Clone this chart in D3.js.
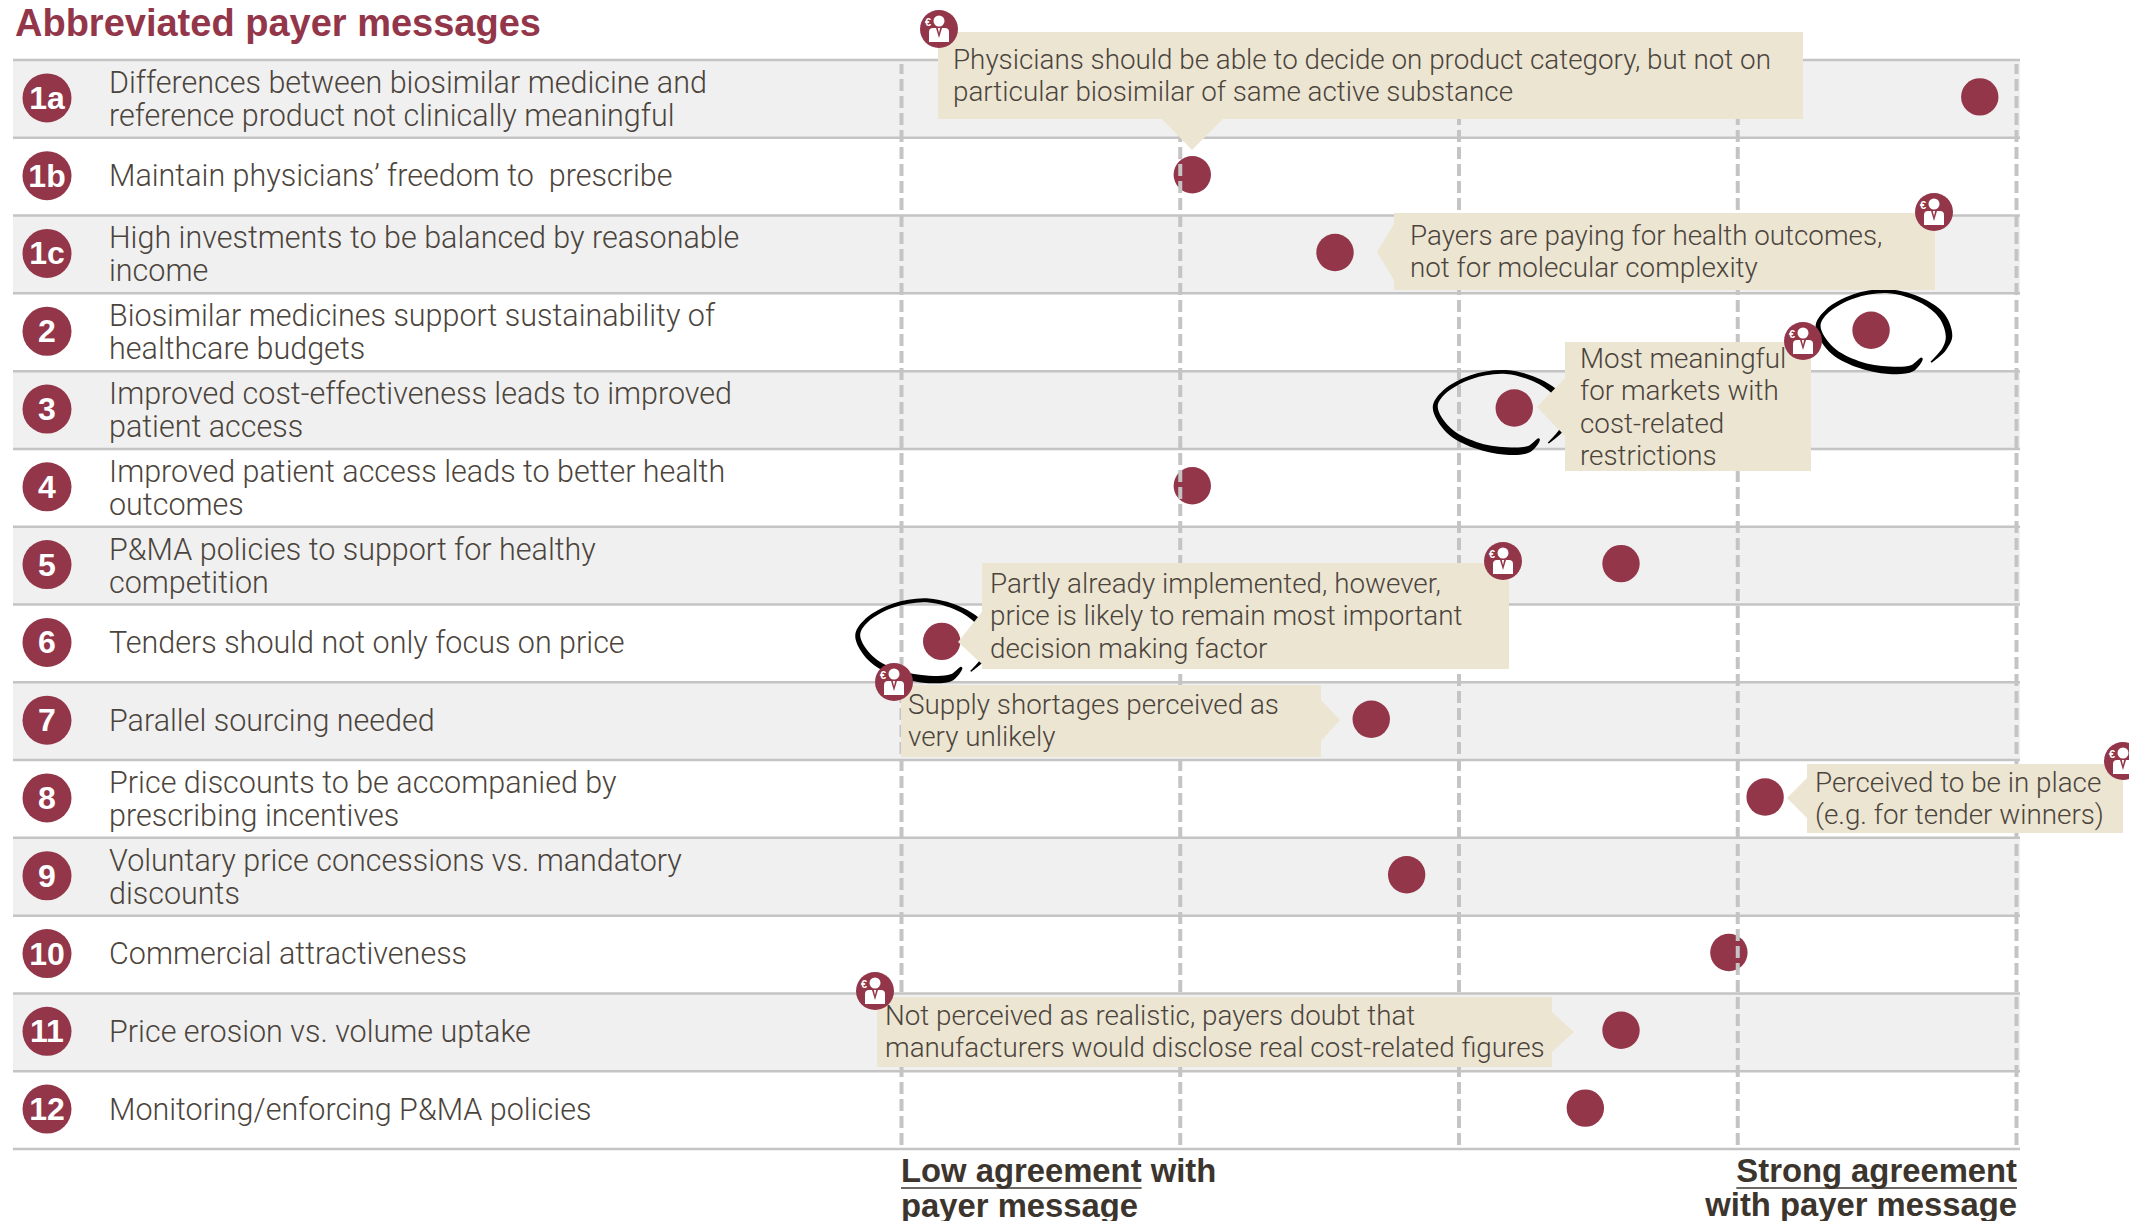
<!DOCTYPE html>
<html>
<head>
<meta charset="utf-8">
<script src="https://cdn.jsdelivr.net/npm/d3@7"></script>
<style>
  body{margin:0;background:#fff;}
  text{white-space:pre;}
</style>
</head>
<body>
<div id="chart"></div>
<script>
// data
var rowIds=["1a","1b","1c","2","3","4","5","6","7","8","9","10","11","12"];
var rowLabels=[
  ["Differences between biosimilar medicine and","reference product not clinically meaningful"],
  ["Maintain physicians’ freedom to  prescribe"],
  ["High investments to be balanced by reasonable","income"],
  ["Biosimilar medicines support sustainability of","healthcare budgets"],
  ["Improved cost-effectiveness leads to improved","patient access"],
  ["Improved patient access leads to better health","outcomes"],
  ["P&MA policies to support for healthy","competition"],
  ["Tenders should not only focus on price"],
  ["Parallel sourcing needed"],
  ["Price discounts to be accompanied by","prescribing incentives"],
  ["Voluntary price concessions vs. mandatory","discounts"],
  ["Commercial attractiveness"],
  ["Price erosion vs. volume uptake"],
  ["Monitoring/enforcing P&MA policies"]
];
// 1 = low agreement, 5 = strong agreement
var agreement=[4.87,2.045,2.557,4.48,3.2,2.045,3.583,1.146,2.687,4.1,2.814,3.97,3.583,3.455];
var agreementTicks=[1,2,3,4,5];
var circledRows=["2","3","6"];
var calloutTexts=[
  ["Physicians should be able to decide on product category, but not on","particular biosimilar of same active substance"],
  ["Payers are paying for health outcomes,","not for molecular complexity"],
  ["Most meaningful","for markets with","cost-related","restrictions"],
  ["Partly already implemented, however,","price is likely to remain most important","decision making factor"],
  ["Supply shortages perceived as","very unlikely"],
  ["Perceived to be in place","(e.g. for tender winners)"],
  ["Not perceived as realistic, payers doubt that","manufacturers would disclose real cost-related figures"]
];

// layout
var width=2129,height=1221;
var wine="#93364a",textCol="#4b443c",boxCol="#ebe5d2",lineCol="#c4c4c4",stripe="#f0f0f0";
var fontLight="Roboto, 'Liberation Sans', sans-serif";
var fontBold="'Liberation Sans', Arial, sans-serif";
// x,y,w,h of box, text x, first baseline, pointer polygon offsets, icon position
var calloutLayout=[
  {x:938,y:32,w:865,h:87,tx:953,ty:69,ptr:[[1162,119],[1192,150],[1223,119]],icon:[939,29]},
  {x:1394,y:213,w:541,h:77,tx:1410,ty:245,ptr:[[1394,224],[1377,252],[1394,280]],icon:[1934,212]},
  {x:1565,y:342,w:246,h:129,tx:1580,ty:368,ptr:[[1565,378],[1537,407],[1565,436]],icon:[1803,341]},
  {x:982,y:563,w:527,h:106,tx:990,ty:593,ptr:[[982,612],[958,642],[982,664]],icon:[1503,561]},
  {x:901,y:685,w:420,h:72,tx:908,ty:714,ptr:[[1321,700],[1340,720],[1321,741]],icon:[894,682]},
  {x:1807,y:764,w:316,h:69,tx:1815,ty:792,ptr:[[1807,778],[1787,798],[1807,818]],icon:[2123,761]},
  {x:877,y:997,w:675,h:70,tx:885,ty:1025,ptr:[[1552,1012],[1574,1032],[1552,1052]],icon:[875,991]}
];
// hand drawn ring around a dot: x,y,stroke width relative to the dot
var ringStroke=[[60,32,1.5],[73,19,4],[78,6,6.5],[71,-14,6.5],[52,-29,5],[18,-39,4],[-17,-34,4],[-44,-19,4],[-53,-4,5],[-40,19,6],[-13,34,6.5],[18,40,7.5],[41,38,6.5],[51,28,2]];
var ringShift={"2":[0,0],"3":[-26,3],"6":[-31,-2]};

var svg=d3.select("#chart").append("svg").attr("width",width).attr("height",height);
var x=d3.scaleLinear().domain([1,5]).range([901,2016]);
var y=d3.scaleBand().domain(rowIds).range([60,1149]);
var rowMid=function(id){return y(id)+y.bandwidth()/2;};
var left=13,right=2020;

// stripes
svg.append("g").selectAll("rect").data(rowIds.filter(function(d,i){return i%2==0;})).enter().append("rect")
  .attr("x",left).attr("y",function(d){return y(d);})
  .attr("width",right-left).attr("height",y.bandwidth())
  .attr("fill",stripe);
// row rules
svg.append("g").selectAll("line").data([60].concat(rowIds.map(function(d){return y(d)+y.bandwidth();}))).enter().append("line")
  .attr("x1",left).attr("x2",right)
  .attr("y1",function(d){return d;}).attr("y2",function(d){return d;})
  .attr("stroke",lineCol).attr("stroke-width",2.5);

// badges + labels
var rows=svg.append("g").selectAll("g").data(rowIds).enter().append("g");
rows.append("circle")
  .attr("cx",47).attr("cy",function(d){return rowMid(d)-1;}).attr("r",24.5).attr("fill",wine);
rows.append("text")
  .attr("x",47).attr("y",function(d){return rowMid(d)+10;})
  .attr("text-anchor","middle").attr("fill","#fff")
  .style("font-family",fontBold).style("font-weight",700).style("font-size","32px")
  .text(function(d){return d;});
rows.each(function(d,i){
  var lines=rowLabels[i];
  var y0=lines.length==1?rowMid(d)+9.5:rowMid(d)-6;
  d3.select(this).selectAll("text.lab").data(lines).enter().append("text").attr("class","lab")
    .attr("x",109).attr("y",function(l,k){return y0+k*33;})
    .attr("fill",textCol)
    .style("font-family",fontLight).style("font-weight",300).style("font-size","30.5px")
    .text(function(l){return l;});
});

// dots, the dashed lines run on top of them
svg.append("g").selectAll("circle").data(rowIds).enter().append("circle")
  .attr("cx",function(d,i){return x(agreement[i]);})
  .attr("cy",function(d){return rowMid(d)-2;})
  .attr("r",18.7).attr("fill",wine);

var grid=svg.append("g").attr("transform","translate(0,1145)")
  .call(d3.axisBottom(x).tickValues(agreementTicks).tickSize(-1081).tickFormat(""));
grid.select(".domain").remove();
grid.selectAll("line").attr("stroke",lineCol).attr("stroke-width",4).attr("stroke-dasharray","12 5");

// hand drawn rings
var ringLine=d3.line().curve(d3.curveCatmullRom);
function ringPath(){
  var outer=[],inner=[];
  ringStroke.forEach(function(p,i){
    var a=ringStroke[Math.max(i-1,0)],b=ringStroke[Math.min(i+1,ringStroke.length-1)];
    var dx=b[0]-a[0],dy=b[1]-a[1],n=Math.sqrt(dx*dx+dy*dy);
    outer.push([p[0]+dy/n*p[2]/2,p[1]-dx/n*p[2]/2]);
    inner.push([p[0]-dy/n*p[2]/2,p[1]+dx/n*p[2]/2]);
  });
  return ringLine(outer.concat(inner.reverse()))+"Z";
}
svg.append("g").selectAll("path").data(circledRows).enter().append("path")
  .attr("d",ringPath())
  .attr("fill","#000")
  .attr("transform",function(d){
    var i=rowIds.indexOf(d);
    return "translate("+(x(agreement[i])+ringShift[d][0])+","+(rowMid(d)-2+ringShift[d][1])+")";
  });

// callouts
var callouts=svg.append("g").selectAll("g").data(calloutLayout).enter().append("g");
callouts.append("polygon")
  .attr("points",function(d){return d.ptr.join(" ");}).attr("fill",boxCol);
callouts.append("rect")
  .attr("x",function(d){return d.x;}).attr("y",function(d){return d.y;})
  .attr("width",function(d){return d.w;}).attr("height",function(d){return d.h;})
  .attr("fill",boxCol);
callouts.each(function(d,i){
  d3.select(this).selectAll("text").data(calloutTexts[i]).enter().append("text")
    .attr("x",d.tx).attr("y",function(l,k){return d.ty+k*32.3;})
    .attr("fill",textCol)
    .style("font-family",fontLight).style("font-weight",300).style("font-size","27.8px")
    .text(function(l){return l;});
});

// payer icons
var icons=svg.append("g").selectAll("g").data(calloutLayout).enter().append("g")
  .attr("transform",function(d){return "translate("+d.icon[0]+","+d.icon[1]+")";});
icons.append("circle").attr("r",19).attr("fill",wine);
icons.append("circle").attr("cy",-8).attr("r",5.5).attr("fill","#fff");
icons.append("path").attr("d","M-10,13 L-10,3 Q-10,-1 -6,-1 L6,-1 Q10,-1 10,3 L10,13 Z").attr("fill","#fff");
icons.append("path").attr("d","M-3,-1 L3,-1 L0,9 Z").attr("fill",wine);
icons.append("path").attr("d","M-1.2,-1 L1.2,-1 L0,4 Z").attr("fill","#fff");
icons.append("text").attr("x",-11).attr("y",-3.5).attr("text-anchor","middle").attr("fill","#fff")
  .style("font-family",fontBold).style("font-weight",700).style("font-size","11px").text("€");

// title
svg.append("text").attr("x",15).attr("y",36).attr("fill",wine)
  .style("font-family",fontBold).style("font-weight",700).style("font-size","38px")
  .text("Abbreviated payer messages");

// bottom captions
function caption(xp,yp,anchor,str,under){
  var t=svg.append("text").attr("x",xp).attr("y",yp).attr("text-anchor",anchor).attr("fill","#3c352d")
    .style("font-family",fontBold).style("font-weight",700).style("font-size","32.8px").text(str);
  if(under){
    var w=t.node().getComputedTextLength();
    var x0=anchor=="end"?xp-w:xp;
    svg.append("line").attr("x1",x0).attr("x2",x0+w).attr("y1",yp+6).attr("y2",yp+6)
      .attr("stroke","#3c352d").attr("stroke-width",1.6);
  }
  return t;
}
var low=caption(901,1182,"start","Low agreement",true);
svg.append("text").attr("x",901+low.node().getComputedTextLength()).attr("y",1182).attr("fill","#3c352d")
  .style("font-family",fontBold).style("font-weight",700).style("font-size","32.8px").text(" with");
caption(901,1217,"start","payer message",false);
caption(2017,1182,"end","Strong agreement",true);
caption(2017,1216,"end","with payer message",false);
</script>
</body>
</html>
